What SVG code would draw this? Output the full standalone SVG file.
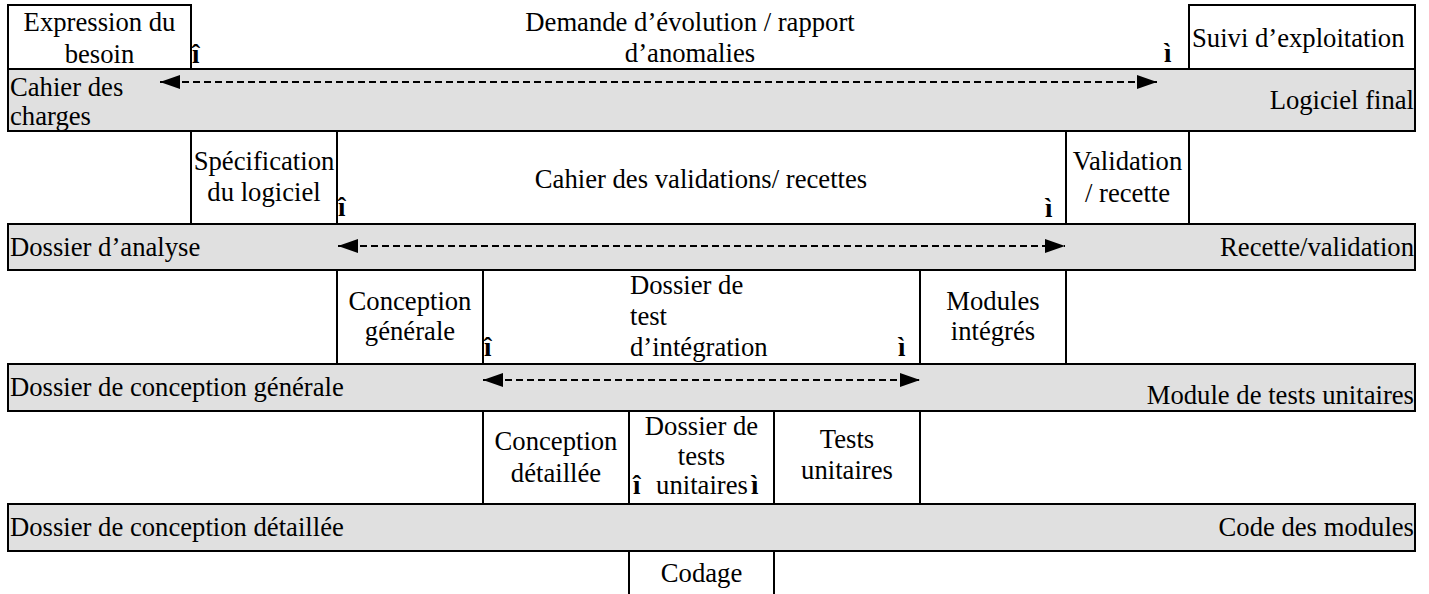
<svg xmlns="http://www.w3.org/2000/svg" width="1429" height="594" viewBox="0 0 1429 594" font-family="'Liberation Serif', 'Times New Roman', serif" font-size="26.67">
  <style>
    .c { text-anchor: middle; }
    .r { text-anchor: end; }
    .mark { font-weight: bold; }
    .band { fill: #e0e0e0; stroke: #000; stroke-width: 2; }
    .box { fill: #fff; stroke: #000; stroke-width: 2; }
    .sep { stroke: #000; stroke-width: 2; fill: none; }
    .flow { stroke: #000; stroke-width: 1.8; stroke-dasharray: 7 4; fill: none; }
  </style>
  <defs>
    <marker id="ah" viewBox="0 0 20 14" refX="20" refY="7" markerWidth="20" markerHeight="14" markerUnits="userSpaceOnUse" orient="auto-start-reverse">
      <path d="M0,0 L20,7 L0,14 z" fill="#000"/>
    </marker>
  </defs>
  <rect width="1429" height="594" fill="#fff"/>

  <!-- top level -->
  <g id="expression-besoin">
    <rect class="box" x="8" y="5" width="183" height="64"/>
    <text class="c" x="99.5" y="31">Expression du</text>
    <text class="c" x="99.5" y="63">besoin</text>
  </g>
  <g id="demande-evolution">
    <text class="c" x="690" y="31">Demande d’évolution / rapport</text>
    <text class="c" x="690" y="62">d’anomalies</text>
    <text class="mark" x="192" y="63">î</text>
    <text class="mark" x="1164" y="62">ì</text>
  </g>
  <g id="suivi-exploitation">
    <rect class="box" x="1189" y="5" width="226" height="64"/>
    <text x="1192" y="47">Suivi d’exploitation</text>
  </g>

  <g id="band-1">
    <rect class="band" x="8" y="69" width="1407" height="62"/>
    <text x="10" y="96">Cahier des</text>
    <text x="10" y="125">charges</text>
    <text class="r" x="1414" y="109">Logiciel final</text>
  </g>

  <!-- level 2 -->
  <g id="specification">
    <path class="sep" d="M191,131 V224 M337,131 V224"/>
    <text class="c" x="264" y="170">Spécification</text>
    <text class="c" x="264" y="201">du logiciel</text>
  </g>
  <g id="cahier-validations">
    <text class="c" x="701" y="188">Cahier des validations/ recettes</text>
    <text class="mark" x="338" y="216">î</text>
    <text class="mark" x="1045" y="217">ì</text>
  </g>
  <g id="validation-recette">
    <path class="sep" d="M1066,131 V224 M1189,131 V224"/>
    <text class="c" x="1127.5" y="170">Validation</text>
    <text class="c" x="1127.5" y="202">/ recette</text>
  </g>

  <g id="band-2">
    <rect class="band" x="8" y="224" width="1407" height="46"/>
    <text x="10" y="256">Dossier d’analyse</text>
    <text class="r" x="1414" y="256">Recette/validation</text>
  </g>

  <!-- level 3 -->
  <g id="conception-generale">
    <path class="sep" d="M337,270 V364 M483,270 V364"/>
    <text class="c" x="410" y="310">Conception</text>
    <text class="c" x="410" y="340">générale</text>
  </g>
  <g id="dossier-test-integration">
    <text x="630" y="294">Dossier de</text>
    <text x="630" y="325">test</text>
    <text x="630" y="356">d’intégration</text>
    <text class="mark" x="484" y="356">î</text>
    <text class="mark" x="898" y="356">ì</text>
  </g>
  <g id="modules-integres">
    <path class="sep" d="M920,270 V364 M1066,270 V364"/>
    <text class="c" x="993" y="310">Modules</text>
    <text class="c" x="993" y="340">intégrés</text>
  </g>

  <g id="band-3">
    <rect class="band" x="8" y="364" width="1407" height="47"/>
    <text x="10" y="396">Dossier de conception générale</text>
    <text class="r" x="1414" y="404">Module de tests unitaires</text>
  </g>

  <!-- level 4 -->
  <g id="conception-detaillee">
    <path class="sep" d="M483,411 V504 M629,411 V504"/>
    <text class="c" x="556" y="450">Conception</text>
    <text class="c" x="556" y="482">détaillée</text>
  </g>
  <g id="dossier-tests-unitaires">
    <text class="c" x="701.5" y="435">Dossier de</text>
    <text class="c" x="701.5" y="465">tests</text>
    <text class="c" x="702" y="494">unitaires</text>
    <text class="mark" x="633" y="494">î</text>
    <text class="mark" x="751" y="494">ì</text>
  </g>
  <g id="tests-unitaires">
    <path class="sep" d="M774,411 V504 M920,411 V504"/>
    <text class="c" x="847" y="448">Tests</text>
    <text class="c" x="847" y="479">unitaires</text>
  </g>

  <g id="band-4">
    <rect class="band" x="8" y="504" width="1407" height="47"/>
    <text x="10" y="536">Dossier de conception détaillée</text>
    <text class="r" x="1414" y="536">Code des modules</text>
  </g>

  <!-- bottom -->
  <g id="codage">
    <path class="sep" d="M629,551 V594 M774,551 V594"/>
    <text class="c" x="701.5" y="582">Codage</text>
  </g>

  <!-- two-way links between matching stages -->
  <g id="connectors">
    <path class="flow" d="M160,82 H1157" marker-start="url(#ah)" marker-end="url(#ah)"/>
    <path class="flow" d="M338,246 H1065" marker-start="url(#ah)" marker-end="url(#ah)"/>
    <path class="flow" d="M483,380 H920" marker-start="url(#ah)" marker-end="url(#ah)"/>
  </g>
</svg>
